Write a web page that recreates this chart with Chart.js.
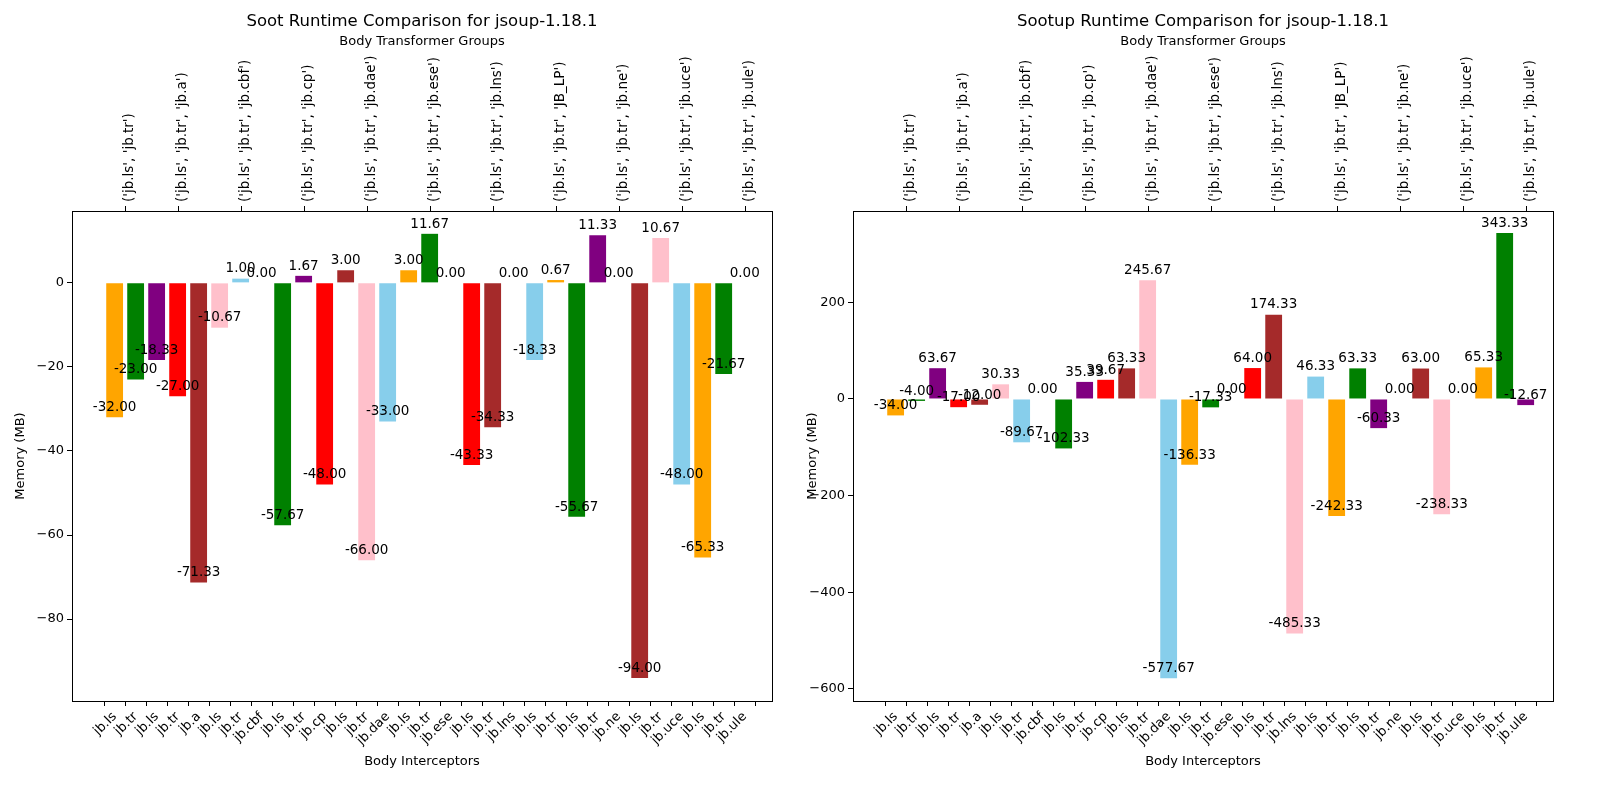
<!DOCTYPE html>
<html>
<head>
<meta charset="utf-8">
<script src="https://cdn.jsdelivr.net/npm/chart.js@4.4.0/dist/chart.umd.min.js"></script>
<style>
  html, body { margin: 0; padding: 0; overflow: hidden; background: #fff; width: 1600px; height: 800px; }
  canvas { position: absolute; top: 0; }
  #soot { left: 0; }
  #sootup { left: 800px; }
</style>
</head>
<body>
<canvas id="soot" width="800" height="800"></canvas>
<canvas id="sootup" width="800" height="800"></canvas>
<script>
// bottom tick labels (body interceptors)
const interceptors = ['jb.ls', 'jb.tr', 'jb.ls', 'jb.tr', 'jb.a', 'jb.ls', 'jb.tr', 'jb.cbf',
    'jb.ls', 'jb.tr', 'jb.cp', 'jb.ls', 'jb.tr', 'jb.dae', 'jb.ls', 'jb.tr', 'jb.ese',
    'jb.ls', 'jb.tr', 'jb.lns', 'jb.ls', 'jb.tr', 'jb.ls', 'jb.tr', 'jb.ne',
    'jb.ls', 'jb.tr', 'jb.uce', 'jb.ls', 'jb.tr', 'jb.ule'];

// top tick labels (transformer groups) and where they sit
const groups = ["('jb.ls', 'jb.tr')", "('jb.ls', 'jb.tr', 'jb.a')", "('jb.ls', 'jb.tr', 'jb.cbf')",
    "('jb.ls', 'jb.tr', 'jb.cp')", "('jb.ls', 'jb.tr', 'jb.dae')", "('jb.ls', 'jb.tr', 'jb.ese')",
    "('jb.ls', 'jb.tr', 'jb.lns')", "('jb.ls', 'jb.tr', 'JB_LP')", "('jb.ls', 'jb.tr', 'jb.ne')",
    "('jb.ls', 'jb.tr', 'jb.uce')", "('jb.ls', 'jb.tr', 'jb.ule')"];
const groupPos = [0.5, 3, 6, 9, 12, 15, 18, 21, 24, 27, 30];

const sootValues = [-32.00, -23.00, -18.33, -27.00, -71.33, -10.67, 1.00, 0.00,
    -57.67, 1.67, -48.00, 3.00, -66.00, -33.00, 3.00, 11.67, 0.00,
    -43.33, -34.33, 0.00, -18.33, 0.67, -55.67, 11.33, 0.00,
    -94.00, 10.67, -48.00, -65.33, -21.67, 0.00];

const sootupValues = [-34.00, -4.00, 63.67, -17.00, -12.00, 30.33, -89.67, 0.00,
    -102.33, 35.33, 39.67, 63.33, 245.67, -577.67, -136.33, -17.33, 0.00,
    64.00, 174.33, -485.33, 46.33, -242.33, 63.33, -60.33, 0.00,
    63.00, -238.33, 0.00, 65.33, 343.33, -12.67];

const palette = ['#ffa500', '#008000', '#800080', '#ff0000', '#a52a2a', '#ffc0cb', '#87ceeb'];

const FONT = "'DejaVu Sans', sans-serif";

function makeChart(id, values, title, yMin, yMax, step, plotLeft, plotRight) {
    const ctx = document.getElementById(id);
    const data = values.map((v, i) => ({ x: i, y: v }));

    const decorations = {
        id: 'decorations',
        afterDatasetsDraw(chart) {
            const c = chart.ctx;
            // value labels
            c.save();
            c.fillStyle = '#000';
            c.font = '13.5px ' + FONT;
            c.textAlign = 'center';
            c.textBaseline = 'bottom';
            chart.getDatasetMeta(0).data.forEach((el, i) => {
                c.fillText(values[i].toFixed(2), el.x, el.y - 3);
            });
            c.restore();
        },
        afterDraw(chart) {
            const c = chart.ctx;
            const a = chart.chartArea;
            const xs = chart.scales.x;
            c.save();
            // frame
            c.strokeStyle = '#000';
            c.lineWidth = 1;
            c.strokeRect(a.left + 0.5, a.top + 0.5, a.right - a.left, a.bottom - a.top);
            // group ticks and labels on top axis
            c.fillStyle = '#000';
            c.font = '13.5px ' + FONT;
            groupPos.forEach((p, i) => {
                const px = Math.round(xs.getPixelForValue(p)) + 0.5;
                c.beginPath();
                c.moveTo(px, a.top);
                c.lineTo(px, a.top - 5);
                c.stroke();
                c.save();
                c.translate(px + 4, a.top - 9);
                c.rotate(-Math.PI / 2);
                c.textAlign = 'left';
                c.textBaseline = 'middle';
                c.fillText(groups[i], 0, 0);
                c.restore();
            });
            // titles
            const mid = (a.left + a.right) / 2;
            c.textAlign = 'center';
            c.textBaseline = 'middle';
            c.font = '16.5px ' + FONT;
            c.fillText(title, mid, 22);
            c.font = '13px ' + FONT;
            c.fillText('Body Transformer Groups', mid, 42);
            c.fillText('Body Interceptors', mid, 762);
            c.save();
            c.translate(id === 'soot' ? 21 : 13, (a.top + a.bottom) / 2);
            c.rotate(-Math.PI / 2);
            c.fillText('Memory (MB)', 0, 0);
            c.restore();
            c.restore();
        }
    };

    return new Chart(ctx, {
        type: 'bar',
        data: {
            datasets: [{
                data: data,
                backgroundColor: values.map((v, i) => palette[i % palette.length]),
                barPercentage: 0.8,
                categoryPercentage: 1.0
            }]
        },
        options: {
            responsive: false,
            animation: false,
            devicePixelRatio: 1,
            layout: { padding: { top: 211, right: 800 - plotRight, bottom: 0, left: 0 } },
            plugins: { legend: { display: false }, tooltip: { enabled: false } },
            scales: {
                x: {
                    type: 'linear',
                    position: 'bottom',
                    min: -2.03,
                    max: 31.3,
                    offset: false,
                    afterBuildTicks(scale) {
                        scale.ticks = interceptors.map((l, i) => ({ value: i }));
                    },
                    afterFit(scale) { scale.height = 99; },
                    grid: { drawOnChartArea: false, drawTicks: true, tickLength: 5, color: '#000' },
                    border: { display: true, color: '#000' },
                    ticks: {
                        autoSkip: false,
                        minRotation: 45,
                        maxRotation: 45,
                        color: '#000',
                        font: { size: 13, family: FONT },
                        callback: (v, i) => interceptors[i]
                    }
                },
                y: {
                    min: yMin,
                    max: yMax,
                    afterBuildTicks(scale) {
                        const t = [];
                        for (let v = Math.ceil(yMin / step) * step; v <= yMax; v += step) t.push({ value: v });
                        scale.ticks = t;
                    },
                    afterFit(scale) { scale.width = plotLeft; },
                    grid: { drawOnChartArea: false, drawTicks: true, tickLength: 5, color: '#000' },
                    border: { display: true, color: '#000' },
                    ticks: {
                        color: '#000',
                        font: { size: 13, family: FONT },
                        callback: v => String(v).replace('-', '\u2212')
                    }
                }
            }
        },
        plugins: [decorations]
    });
}

makeChart('soot', sootValues, 'Soot Runtime Comparison for jsoup-1.18.1', -99.5, 17.1, 20, 72, 772);
makeChart('sootup', sootupValues, 'Sootup Runtime Comparison for jsoup-1.18.1', -625, 389, 200, 53, 753);
</script>
</body>
</html>
